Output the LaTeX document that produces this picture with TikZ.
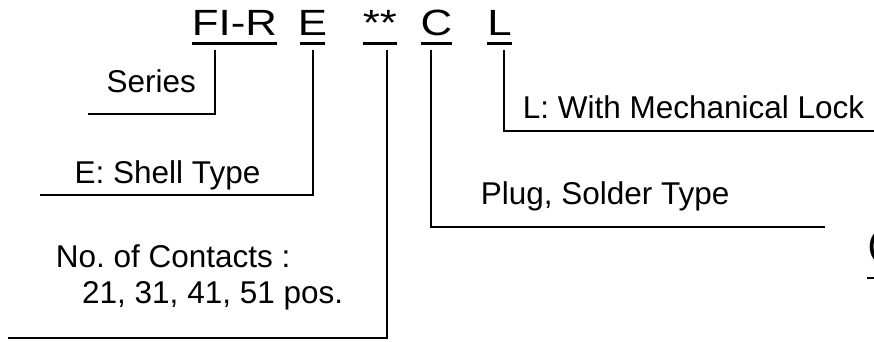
\documentclass[tikz,border=0pt]{standalone}
\usepackage{fontspec}
\setmainfont{Liberation Sans}
\newfontfamily\ttlfont[FakeStretch=1.2]{Liberation Sans}
\usetikzlibrary{positioning}

\tikzset{
  ttl/.style={font=\ttlfont\fontsize{36.5}{36.5}\selectfont, inner xsep=0pt, inner ysep=7.4pt, text depth=0pt, anchor=south},
  lbl/.style={font=\fontsize{31.5}{36}\selectfont, inner sep=0pt, anchor=base west},
  lead/.style={line width=1.6pt},
  uline/.style={line width=2.5pt},
}

\begin{document}
\begin{tikzpicture}[x=1pt,y=1pt]
\useasboundingbox (0,0) rectangle (874,-341);

% Part number
\node[ttl] (fir) at (234.5,-43.4) {FI-R};
\node[ttl] (e)   at (312.5,-43.4) {E};
\node[ttl] (num) at (380,-43.4)   {**};
\node[ttl] (c)   at (436.5,-43.4) {C};
\node[ttl] (l)   at (499.5,-43.4) {L};
\node[ttl, anchor=base west] (nxt) at (867,-256) {(};

\foreach \n/\w in {fir/85, e/25, num/34, c/31, l/25}
  \draw[uline] ([xshift=-\w/2]\n.south) -- ++(\w,0);
\draw[uline] ([yshift=-22]nxt.base west) -- ++(12,0);

% Labels
\node[lbl] (ser) at (106.5,-92)  {Series};
\node[lbl] (lck) at (522.7,-118) {L: With Mechanical Lock};
\node[lbl] (shl) at (74.5,-183)  {E: Shell Type};
\node[lbl] (plg) at (480.6,-204) {Plug, Solder Type};
\node[lbl] (cts) at (55.6,-267)  {No.\ of Contacts :};
\node[lbl] (pos) at ([shift={(26.4,-36)}]cts.base west) {21, 31, 41, 51 pos.};

% Rule ends
\coordinate (serend) at (88,-114);
\coordinate (lckend) at (874,-131);
\coordinate (shlend) at (40,-195);
\coordinate (plgend) at (825,-227);
\coordinate (ctsend) at (8,-338);

% Leads
\draw[lead] ([shift={(-19.5,-6.6)}]fir.south) |- (serend);
\draw[lead] ([shift={(0.5,-6.6)}]e.south)     |- (shlend);
\draw[lead] ([shift={(7,-6.6)}]num.south)     |- (ctsend);
\draw[lead] ([shift={(-5.5,-6.6)}]c.south)    |- (plgend);
\draw[lead] ([shift={(4.5,-6.6)}]l.south)     |- (lckend);
\end{tikzpicture}
\end{document}
